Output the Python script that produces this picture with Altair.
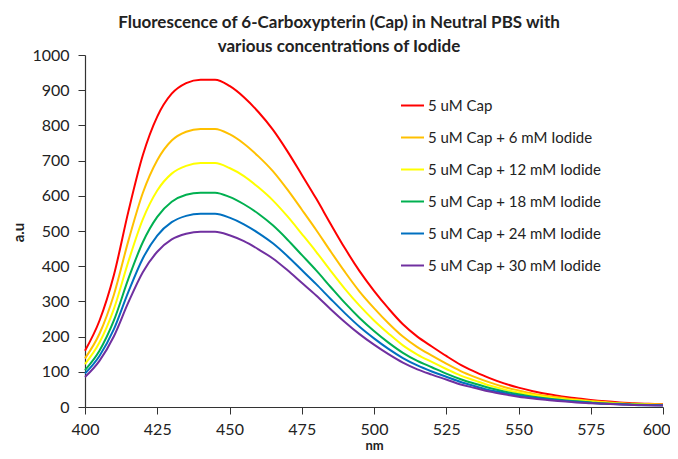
import altair as alt
import pandas as pd

wavelength = list(range(400, 601, 5))

series_names = [
    "5 uM Cap",
    "5 uM Cap + 6 mM Iodide",
    "5 uM Cap + 12 mM Iodide",
    "5 uM Cap + 18 mM Iodide",
    "5 uM Cap + 24 mM Iodide",
    "5 uM Cap + 30 mM Iodide",
]
series_colors = ["#FF0000", "#FFC000", "#FFFF00", "#00B050", "#0070C0", "#7030A0"]

cap_0 = [160, 245, 375, 555, 715, 825, 890, 920, 930, 930, 912, 880, 838, 788, 727, 660,
         592, 520, 450, 386, 330, 280, 235, 200, 172, 145, 120, 100, 82, 67, 55, 45, 37,
         30, 25, 20, 16, 13, 11, 9, 8]
cap_6 = [138, 208, 319, 472, 608, 701, 757, 782, 790, 790, 775, 748, 712, 670, 618, 561,
         503, 442, 383, 328, 281, 238, 200, 170, 146, 123, 102, 85, 70, 57, 47, 38, 31,
         26, 21, 17, 14, 11, 9, 8, 7]
cap_12 = [122, 183, 279, 413, 533, 615, 663, 685, 693, 693, 679, 656, 624, 587, 542, 492,
          441, 387, 335, 288, 246, 209, 175, 149, 128, 108, 89, 75, 61, 50, 41, 34, 28,
          22, 19, 15, 12, 10, 8, 7, 6]
cap_18 = [105, 160, 246, 364, 468, 540, 583, 603, 609, 609, 597, 576, 549, 516, 476, 432,
          388, 341, 295, 253, 216, 183, 154, 131, 113, 95, 79, 66, 54, 44, 36, 29, 24,
          20, 16, 13, 10, 9, 7, 6, 5]
cap_24 = [95, 145, 221, 327, 422, 487, 525, 543, 549, 549, 538, 519, 494, 465, 429, 389,
          349, 307, 266, 228, 195, 165, 139, 118, 101, 86, 71, 59, 48, 40, 32, 27, 22,
          18, 15, 12, 9, 8, 6, 5, 5]
cap_30 = [85, 131, 201, 297, 383, 441, 476, 492, 498, 498, 488, 471, 448, 422, 389, 353,
          317, 278, 241, 207, 177, 150, 126, 107, 92, 78, 64, 54, 44, 36, 29, 24, 20,
          16, 13, 11, 9, 7, 6, 5, 4]

all_series = [cap_0, cap_6, cap_12, cap_18, cap_24, cap_30]

rows = []
for order, (name, vals) in enumerate(zip(series_names, all_series)):
    for nm, v in zip(wavelength, vals):
        rows.append({"nm": nm, "value": v, "series": name, "order": order})
df = pd.DataFrame(rows)

FONT = "Lato"

chart = alt.Chart(df).mark_line(strokeWidth=2, interpolate="monotone").encode(
    x=alt.X("nm:Q", scale=alt.Scale(domain=[400, 600], nice=False),
            axis=alt.Axis(title="nm", values=list(range(400, 601, 25)), grid=False,
                          titleX=289, titleY=42, titleBaseline="alphabetic",
                          titleFontSize=13,
                          labelPadding=7, labelFlush=False,
                          labelAlign=alt.condition("datum.value === 600",
                                                   alt.value("right"), alt.value("center")),
                          labelOffset=alt.condition("datum.value === 600",
                                                    alt.value(7), alt.value(0)))),
    y=alt.Y("value:Q", scale=alt.Scale(domain=[0, 1000], nice=False),
            axis=alt.Axis(title="a.u", values=list(range(0, 1001, 100)), grid=False,
                          format="d",
                          titleX=-67, titleY=177, titleAngle=270, titleAlign="center",
                          titleBaseline="middle", labelPadding=9)),
    color=alt.Color("series:N", scale=alt.Scale(domain=series_names, range=series_colors),
                    legend=alt.Legend(title=None, orient="none", legendX=315, legendY=38,
                                      symbolType="stroke", symbolSize=529,
                                      symbolStrokeWidth=2, labelFontSize=15,
                                      labelFont=FONT, labelColor="#222", rowPadding=11,
                                      labelLimit=300, labelOffset=3)),
    detail="order:O",
).properties(
    width=578,
    height=352,
    title=alt.TitleParams(
        text=["Fluorescence of 6-Carboxypterin (Cap) in Neutral PBS with",
              "various concentrations of Iodide"],
        fontSize=17, fontWeight="bold", font=FONT, color="#222",
        anchor="middle", dx=-35, dy=15, lineHeight=24, offset=6,
    ),
    autosize=alt.AutoSizeParams(type="none"),
    padding={"left": 77, "top": 47, "right": 7, "bottom": 44},
).configure_view(stroke=None).configure_axis(
    domainColor="#333", tickColor="#333", tickSize=7, labelFont=FONT, labelFontSize=16,
    labelColor="#222", titleFont=FONT, titleFontSize=15, titleFontWeight="bold",
    titleColor="#222", domainWidth=1.2,
)

chart.save("out.html", embed_options={"renderer": "svg", "actions": False})
